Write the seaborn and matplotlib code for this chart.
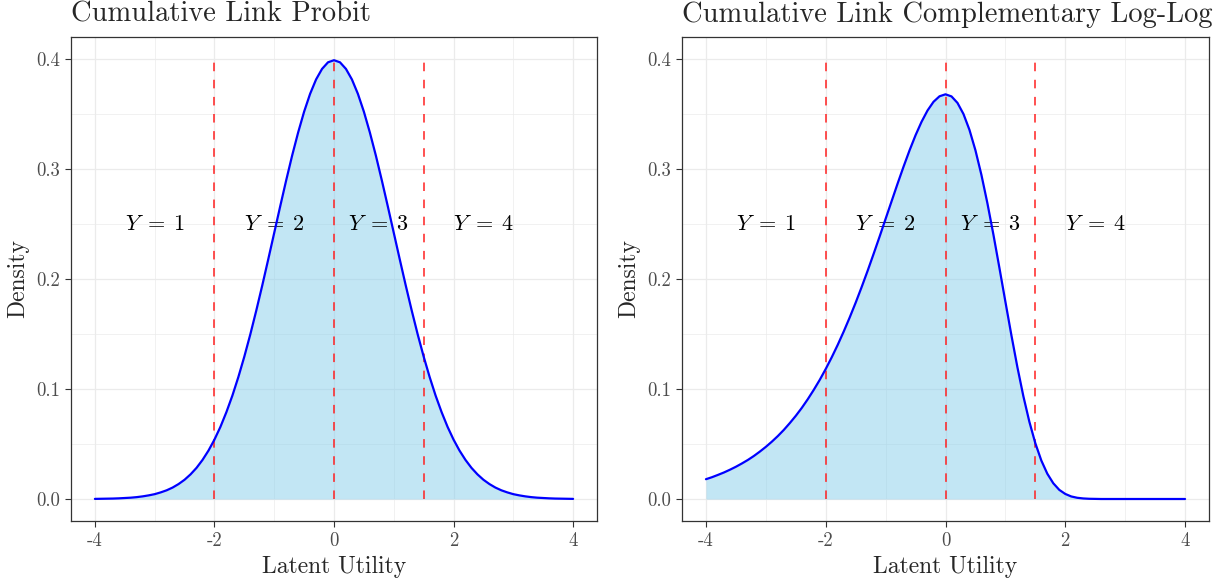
import numpy as np
import pandas as pd
import matplotlib
matplotlib.use("Agg")
import matplotlib.pyplot as plt
import seaborn as sns

# Latent utility grid (step 0.1) and the two densities on it
latent = [-4.0, -3.9, -3.8, -3.7, -3.6, -3.5, -3.4, -3.3, -3.2, -3.1,
          -3.0, -2.9, -2.8, -2.7, -2.6, -2.5, -2.4, -2.3, -2.2, -2.1,
          -2.0, -1.9, -1.8, -1.7, -1.6, -1.5, -1.4, -1.3, -1.2, -1.1,
          -1.0, -0.9, -0.8, -0.7, -0.6, -0.5, -0.4, -0.3, -0.2, -0.1,
          0.0, 0.1, 0.2, 0.3, 0.4, 0.5, 0.6, 0.7, 0.8, 0.9,
          1.0, 1.1, 1.2, 1.3, 1.4, 1.5, 1.6, 1.7, 1.8, 1.9,
          2.0, 2.1, 2.2, 2.3, 2.4, 2.5, 2.6, 2.7, 2.8, 2.9,
          3.0, 3.1, 3.2, 3.3, 3.4, 3.5, 3.6, 3.7, 3.8, 3.9, 4.0]

probit_density = [0.0001, 0.0002, 0.0003, 0.0004, 0.0006, 0.0009, 0.0012, 0.0017, 0.0024, 0.0033,
                  0.0044, 0.0060, 0.0079, 0.0104, 0.0136, 0.0175, 0.0224, 0.0283, 0.0355, 0.0440,
                  0.0540, 0.0656, 0.0790, 0.0940, 0.1109, 0.1295, 0.1497, 0.1714, 0.1942, 0.2179,
                  0.2420, 0.2661, 0.2897, 0.3123, 0.3332, 0.3521, 0.3683, 0.3814, 0.3910, 0.3970,
                  0.3989, 0.3970, 0.3910, 0.3814, 0.3683, 0.3521, 0.3332, 0.3123, 0.2897, 0.2661,
                  0.2420, 0.2179, 0.1942, 0.1714, 0.1497, 0.1295, 0.1109, 0.0940, 0.0790, 0.0656,
                  0.0540, 0.0440, 0.0355, 0.0283, 0.0224, 0.0175, 0.0136, 0.0104, 0.0079, 0.0060,
                  0.0044, 0.0033, 0.0024, 0.0017, 0.0012, 0.0009, 0.0006, 0.0004, 0.0003, 0.0002, 0.0001]

cloglog_density = [0.0180, 0.0198, 0.0219, 0.0241, 0.0266, 0.0293, 0.0323, 0.0355, 0.0391, 0.0431,
                   0.0474, 0.0521, 0.0572, 0.0628, 0.0690, 0.0756, 0.0828, 0.0907, 0.0992, 0.1083,
                   0.1182, 0.1288, 0.1401, 0.1522, 0.1650, 0.1785, 0.1927, 0.2075, 0.2229, 0.2386,
                   0.2547, 0.2707, 0.2867, 0.3022, 0.3170, 0.3307, 0.3429, 0.3532, 0.3611, 0.3661,
                   0.3679, 0.3660, 0.3601, 0.3500, 0.3356, 0.3170, 0.2946, 0.2688, 0.2404, 0.2102,
                   0.1794, 0.1490, 0.1200, 0.0935, 0.0703, 0.0507, 0.0350, 0.0230, 0.0143, 0.0083,
                   0.0046, 0.0023, 0.0011, 0.0005, 0.0002, 0.0001, 0.0000, 0.0000, 0.0000, 0.0000,
                   0.0000, 0.0000, 0.0000, 0.0000, 0.0000, 0.0000, 0.0000, 0.0000, 0.0000, 0.0000, 0.0000]

thresholds = [-2.0, 0.0, 1.5]
region_labels = [r"$Y\;=\;1$", r"$Y\;=\;2$", r"$Y\;=\;3$", r"$Y\;=\;4$"]
region_label_x = [-3.0, -1.0, 0.75, 2.5]
region_label_y = 0.25

panel_titles = ["Cumulative Link Probit", "Cumulative Link Complementary Log-Log"]
x_ticks = [-4, -2, 0, 2, 4]
x_tick_labels = ["-4", "-2", "0", "2", "4"]
y_ticks = [0.0, 0.1, 0.2, 0.3, 0.4]
y_tick_labels = ["0.0", "0.1", "0.2", "0.3", "0.4"]

sns.set_style("white")
plt.rcParams["font.family"] = ["cmr10", "DejaVu Serif"]
plt.rcParams["mathtext.fontset"] = "cm"
plt.rcParams["axes.unicode_minus"] = False

frames = [
    pd.DataFrame({"x": latent, "density": probit_density}),
    pd.DataFrame({"x": latent, "density": cloglog_density}),
]

fig = plt.figure(figsize=(12.23, 5.88), dpi=100)
axes = [fig.add_axes([71 / 1223, 67 / 588, 526 / 1223, 484 / 588]),
        fig.add_axes([682 / 1223, 67 / 588, 527 / 1223, 484 / 588])]

grid_col = "#EBEBEB"
for ax, df, title in zip(axes, frames, panel_titles):
    ax.set_xlim(-4.4, 4.4)
    ax.set_ylim(-0.02, 0.42)

    # major + minor grid as in a bw theme
    for v in [-3, -1, 1, 3]:
        ax.axvline(v, color=grid_col, lw=0.5, zorder=0)
    for v in [0.05, 0.15, 0.25, 0.35]:
        ax.axhline(v, color=grid_col, lw=0.5, zorder=0)
    for v in x_ticks:
        ax.axvline(v, color=grid_col, lw=0.9, zorder=0)
    for v in y_ticks:
        ax.axhline(v, color=grid_col, lw=0.9, zorder=0)

    ax.fill_between(df["x"], 0, df["density"], color="skyblue", alpha=0.5,
                    linewidth=0, zorder=1)
    ax.vlines(thresholds, 0, 0.4, colors="#FF2020", linestyles=(0, (5.6, 5.6)),
              linewidth=1.1, zorder=2)
    for lab, lx in zip(region_labels, region_label_x):
        ax.text(lx, region_label_y, lab, ha="center", va="center",
                fontsize=16, color="black", zorder=3)
    sns.lineplot(data=df, x="x", y="density", ax=ax, color="#0000FF",
                 linewidth=1.6, zorder=4)

    ax.set_xticks(x_ticks)
    ax.set_xticklabels(x_tick_labels)
    ax.set_yticks(y_ticks)
    ax.set_yticklabels(y_tick_labels)
    ax.tick_params(axis="both", which="major", length=4, width=0.8,
                   color="#333333", labelcolor="#4D4D4D", labelsize=13.5, pad=4,
                   bottom=True, left=True)
    ax.set_xlabel("Latent Utility", fontsize=17, labelpad=4.5)
    ax.set_ylabel("Density", fontsize=17, labelpad=5)
    ax.set_title(title, fontsize=20.5, loc="left", pad=11)
    for s in ax.spines.values():
        s.set_color("#333333")
        s.set_linewidth(0.9)

fig.savefig("out.png", dpi=100)
